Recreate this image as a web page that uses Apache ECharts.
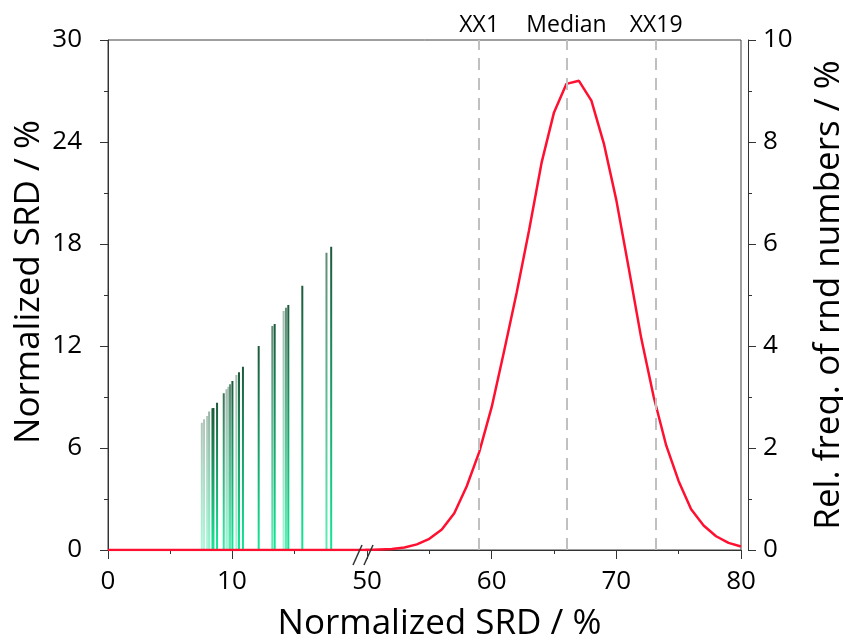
<!DOCTYPE html>
<html>
<head>
	<meta charset="utf-8">
	<title>Normalized SRD</title>
	<script type="text/javascript" src="https://cdn.jsdelivr.net/npm/echarts@6.0.0/dist/echarts.min.js"></script>
	<style>
		html,body{margin:0;padding:0;background:#fff;}
		#main{width:843px;height:640px;}
	</style>
</head>
<body>
<div id="main"></div>
<script type="text/javascript">
	// green bars: position on x, height on left axis
	var barX=[7.57,7.75,8.0,8.16,8.43,8.51,8.8,9.34,9.56,9.72,9.85,10.04,10.36,10.57,10.89,12.16,13.26,13.45,14.17,14.36,14.55,15.68,17.63,18.01];
	var barH=[7.49,7.69,7.88,8.14,8.34,8.36,8.66,9.22,9.45,9.61,9.75,9.94,10.29,10.45,10.78,12.0,13.18,13.29,14.06,14.25,14.41,15.55,17.49,17.84];

	// red curve: relative frequency (right axis)
	var freqX=[0,50,51,52,53,54,55,56,57,58,59,60,61,62,63,64,65,66,67,68,69,70,71,72,73,74,75,76,77,78,79,80];
	var freqY=[0,0,0.01,0.02,0.05,0.11,0.22,0.40,0.72,1.25,1.92,2.8,3.9,5.04,6.27,7.59,8.58,9.14,9.2,8.81,7.97,6.86,5.52,4.15,3.0,2.05,1.35,0.8,0.48,0.27,0.14,0.07];

	// dashed markers
	var markerX=[59.0,66.0,73.2];
	var markerNames=['XX1','Median','XX19'];

	// tick labels
	var leftMajor=[0,10], leftMinor=[5,15];
	var rightMinor=[55,65,75];

	// bar transparency (style only)
	var barAlpha=[0.35,0.35,0.35,0.45,1,1,1,0.85,0.4,0.4,0.7,1,0.4,1,1,1,0.7,1,0.4,0.7,1,1,0.7,1];

	var FONT='Open Sans';
	var lineCol='#333';
	var myChart=echarts.init(document.getElementById('main'));

	var freqData=freqX.map(function(x,i){ return [x,freqY[i]]; });
	var barData=barX.map(function(x,i){
		return {value:[x,barH[i]],itemStyle:{opacity:barAlpha[i]}};
	});

	function majorX(grid,min,max,opts){
		var ax={
			gridIndex:grid,type:'value',min:min,max:max,position:'bottom',offset:5,
			axisLine:{show:true,lineStyle:{color:lineCol,width:1}},
			axisTick:{show:true,length:9,lineStyle:{color:lineCol}},
			axisLabel:{margin:14,fontSize:26,color:'#000',fontFamily:FONT},
			splitLine:{show:false}
		};
		for(var k in opts){ ax[k]=opts[k]; }
		return ax;
	}
	function minorX(grid,min,max,vals){
		return {
			gridIndex:grid,type:'value',min:min,max:max,position:'bottom',offset:5,
			axisLine:{show:false},
			axisTick:{show:true,length:4,customValues:vals,lineStyle:{color:lineCol}},
			axisLabel:{show:false},splitLine:{show:false}
		};
	}

	var option={
		backgroundColor:'#fff',
		animation:false,
		grid:[
			{left:108,right:476,top:40,bottom:90,outerBoundsMode:'none'},
			{left:367,right:102,top:40,bottom:90,outerBoundsMode:'none'},
			{left:108,right:102,top:40,bottom:90,outerBoundsMode:'none',show:true,borderColor:'#404040',borderWidth:1,backgroundColor:'transparent'}
		],
		xAxis:[
			majorX(0,0,20.9,{
				axisTick:{show:true,length:9,customValues:leftMajor,lineStyle:{color:lineCol}},
				axisLabel:{customValues:leftMajor,margin:14,fontSize:26,color:'#000',fontFamily:FONT}
			}),
			minorX(0,0,20.9,leftMinor),
			majorX(1,50,80,{interval:10}),
			minorX(1,50,80,rightMinor),
			{
				gridIndex:2,type:'value',min:0,max:1,
				axisLine:{show:false},axisTick:{show:false},axisLabel:{show:false},splitLine:{show:false},
				name:'Normalized SRD / %',nameLocation:'middle',nameGap:57,
				nameTextStyle:{fontSize:35,color:'#000',fontFamily:FONT,padding:[0,0,0,30]}
			}
		],
		yAxis:[
			{
				gridIndex:0,type:'value',min:0,max:30,interval:6,position:'left',offset:8,
				axisLine:{show:true,lineStyle:{color:lineCol}},
				axisTick:{show:true,length:8,lineStyle:{color:lineCol}},
				minorTick:{show:true,splitNumber:2,length:4,lineStyle:{color:lineCol}},
				axisLabel:{margin:18,fontSize:26,color:'#000',fontFamily:FONT},
				splitLine:{show:false},
				name:'Normalized SRD / %',nameLocation:'middle',nameRotate:90,nameGap:53,
				nameTextStyle:{fontSize:35,color:'#000',fontFamily:FONT,padding:[0,0,0,26]}
			},
			{gridIndex:0,type:'value',min:0,max:10,show:false},
			{gridIndex:1,type:'value',min:0,max:30,show:false},
			{
				gridIndex:1,type:'value',min:0,max:10,interval:2,position:'right',offset:7,
				axisLine:{show:true,lineStyle:{color:lineCol}},
				axisTick:{show:true,length:8,lineStyle:{color:lineCol}},
				minorTick:{show:true,splitNumber:2,length:4,lineStyle:{color:lineCol}},
				axisLabel:{margin:15,fontSize:26,color:'#000',fontFamily:FONT},
				splitLine:{show:false},
				name:'Rel. freq. of rnd numbers / %',nameLocation:'middle',nameRotate:90,nameGap:64,
				nameTextStyle:{fontSize:35,color:'#000',fontFamily:FONT}
			},
			{gridIndex:2,type:'value',min:0,max:1,show:false}
		],
		series:[
			{
				name:'SRD',type:'bar',xAxisIndex:0,yAxisIndex:0,
				barWidth:2,silent:true,
				itemStyle:{
					color:new echarts.graphic.LinearGradient(0,0,0,1,[
						{offset:0,color:'#1d5a3b'},
						{offset:1,color:'#14e896'}
					])
				},
				data:barData
			},
			{
				name:'freq-left',type:'line',xAxisIndex:0,yAxisIndex:1,
				clip:true,showSymbol:false,silent:true,
				lineStyle:{color:'#ff1030',width:2.5},
				data:freqData
			},
			{
				name:'freq',type:'line',xAxisIndex:2,yAxisIndex:3,
				clip:true,showSymbol:false,silent:true,z:3,
				lineStyle:{color:'#ff1030',width:2.5},
				data:freqData,
				markLine:{
					silent:true,symbol:['none','none'],
					lineStyle:{color:'#c0c0c0',type:[12,8],width:2},
					label:{show:true,position:'end',formatter:'{b}',color:'#000',fontSize:23,fontFamily:FONT,distance:3},
					data:markerX.map(function(v,i){ return {xAxis:v,name:markerNames[i]}; })
				}
			}
		]
	};
	myChart.setOption(option);

	// axis break marks "//"
	var bx=myChart.convertToPixel({xAxisIndex:2},50);
	var by=myChart.convertToPixel({yAxisIndex:0},0)+5;
	myChart.setOption({
		graphic:[
			{type:'line',shape:{x1:bx-14,y1:by+10,x2:bx-5,y2:by-10},style:{stroke:lineCol,lineWidth:1.5},z:100},
			{type:'line',shape:{x1:bx-3,y1:by+10,x2:bx+6,y2:by-10},style:{stroke:lineCol,lineWidth:1.5},z:100}
		]
	});
</script>
</body>
</html>
